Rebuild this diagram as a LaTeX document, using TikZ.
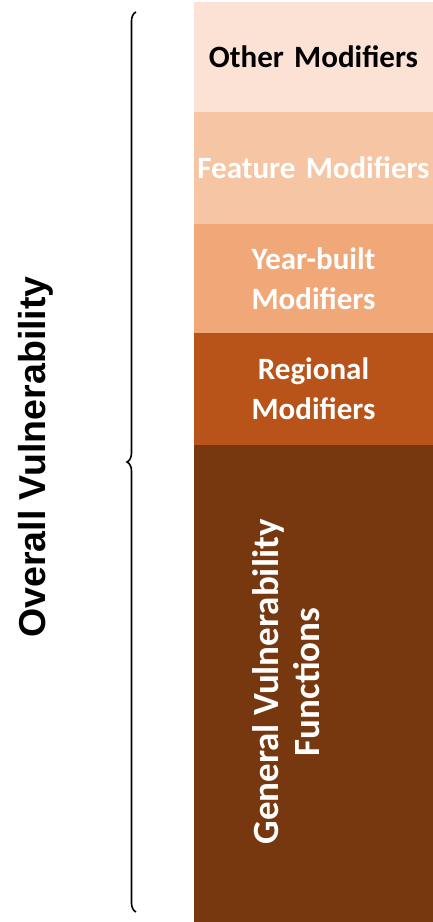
\documentclass[tikz,border=0pt]{standalone}
\usepackage{fontspec}
\setmainfont{Carlito}
\newfontfamily\arialfont{Liberation Sans}
\usetikzlibrary{positioning,decorations.pathreplacing}
\definecolor{otherfill}{HTML}{FBE2D5}
\definecolor{featurefill}{HTML}{F5C5A4}
\definecolor{yearfill}{HTML}{F1A879}
\definecolor{regionfill}{HTML}{B85419}
\definecolor{generalfill}{HTML}{78380F}

\begin{document}
\begin{tikzpicture}
[x=1pt,y=-1pt,
 layer/.style={rectangle,inner sep=0pt,outer sep=0pt,minimum width=239pt,text width=239pt,align=center,text=white,
   font=\bfseries\fontsize{31}{40}\selectfont},
 bracket/.style={decorate,decoration={brace,amplitude=9pt},line width=1.6pt}]
\useasboundingbox (0,0) rectangle (433,922);

% stack of modifiers, from top to bottom
\node[layer,fill=otherfill,text=black,minimum height=110pt,anchor=north west] (other) at (194,2) {Other Modifiers};
\node[layer,fill=featurefill,minimum height=112pt,below=0pt of other] (feature) {Feature Modifiers};
\node[layer,fill=yearfill,minimum height=109pt,below=0pt of feature] (year) {Year-built\\Modifiers};
\node[layer,fill=regionfill,minimum height=112pt,below=0pt of year] (region) {Regional\\Modifiers};
\node[layer,fill=generalfill,minimum height=477pt,below=0pt of region] (general) {};
\node[rotate=90,text=white,align=center,font=\bfseries\fontsize{37}{41}\selectfont] (genlabel) at (286,682) {General Vulnerability\\Functions};

% brace over the whole stack
\coordinate (btop) at (136,12);
\coordinate (bbot) at (136,912);
\draw[bracket] (bbot) -- (btop);
\node[rotate=90,font=\arialfont\bfseries\fontsize{37.5}{44}\selectfont] (overall) at (36,457) {Overall Vulnerability};
\end{tikzpicture}
\end{document}
